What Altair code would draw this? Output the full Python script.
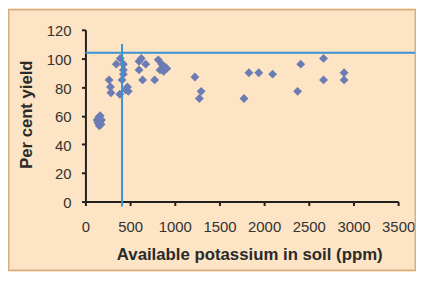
import altair as alt
import pandas as pd

# Scatter data: available potassium (ppm) vs per cent yield
potassium = [130, 140, 150, 160, 165, 175, 180, 155,
             265, 280, 285, 345, 390, 385, 425, 425, 425, 410, 450, 470, 480,
             600, 600, 625, 640, 675, 775, 815, 835, 855, 875, 890, 910,
             1225, 1295, 1275, 1775, 1830, 1940, 2095, 2375, 2410, 2665, 2665, 2895, 2895]
yield_pct = [57, 55, 59, 56, 60, 54, 57, 53,
             85, 80, 76, 96, 100, 75, 96, 92, 89, 85, 78, 80, 77,
             92, 98, 100, 85, 96, 85, 99, 92, 96, 91, 94, 93,
             87, 77, 72, 72, 90, 90, 89, 77, 96, 100, 85, 90, 85]

# Critical reference lines
h_line_x = [0, 3690]
h_line_y = [104, 104]
v_line_x = [410, 410]
v_line_y = [-3.5, 110]

x_ticks = [0, 500, 1000, 1500, 2000, 2500, 3000, 3500]
y_ticks = [0, 20, 40, 60, 80, 100, 120]

pts = pd.DataFrame({"k": potassium, "y": yield_pct})
hl = pd.DataFrame({"k": [h_line_x[0]], "k2": [h_line_x[1]], "y": [h_line_y[0]]})
vl = pd.DataFrame({"k": [v_line_x[0]], "y": [v_line_y[0]], "y2": [v_line_y[1]]})

FONT = "Liberation Sans"
xs = alt.Scale(domain=[0, 3500], nice=False, zero=False)
ys = alt.Scale(domain=[0, 120], nice=False, zero=False)

xaxis = alt.Axis(values=x_ticks, format="d", title="Available potassium in soil (ppm)", grid=False,
                 domainColor="#231F20", domainWidth=2, tickColor="#231F20", tickWidth=2, tickSize=4,
                 labelFont=FONT, labelFontSize=15, labelColor="#333333", labelBaseline="alphabetic",
                 labelPadding=26, labelFlush=False, labelOverlap=False, labelBound=False,
                 titleFont=FONT, titleFontSize=16.9, titleFontWeight="bold", titleColor="#2a2a2a",
                 titleBaseline="alphabetic", titleX=165, titleY=58.5)
yaxis = alt.Axis(values=y_ticks, format="d", title="Per cent yield", grid=False,
                 domainColor="#231F20", domainWidth=2, tickColor="#231F20", tickWidth=2, tickSize=4,
                 labelFont=FONT, labelFontSize=15, labelColor="#333333", labelPadding=10.5,
                 labelFlush=False, labelOverlap=False, labelBound=False, labelOffset=1,
                 titleFont=FONT, titleFontSize=16.8, titleFontWeight="bold", titleColor="#2a2a2a",
                 titleBaseline="alphabetic", titleX=-54, titleY=85)

frame = alt.Chart(pd.DataFrame({"a": [0]})).mark_rect(
    fill=None, stroke="#D2B083", strokeWidth=1.5, clip=False
).encode(x=alt.value(-77.3), x2=alt.value(332.3), y=alt.value(-20.3), y2=alt.value(242.3))

points = alt.Chart(pts).mark_point(
    shape="diamond", filled=True, size=80, color="#6B7CB4", opacity=1
).encode(x=alt.X("k:Q", scale=xs, axis=xaxis), y=alt.Y("y:Q", scale=ys, axis=yaxis))

hrule = alt.Chart(hl).mark_rule(color="#3A92D3", strokeWidth=2, clip=False).encode(
    x=alt.X("k:Q", scale=xs, axis=xaxis), x2="k2:Q", y=alt.Y("y:Q", scale=ys, axis=yaxis))
vrule = alt.Chart(vl).mark_rule(color="#3A92D3", strokeWidth=2, clip=False).encode(
    x=alt.X("k:Q", scale=xs, axis=xaxis), y=alt.Y("y:Q", scale=ys, axis=yaxis), y2="y2:Q")

chart = alt.layer(frame, points, hrule, vrule).properties(
    width=315, height=173,
    padding={"left": 78, "top": 21, "right": 18, "bottom": 70},
    autosize=alt.AutoSizeParams(type="none"),
    background="#FDE4C4",
).configure_view(stroke=None)

chart.save("out.html", embed_options={"renderer": "svg", "actions": False})
